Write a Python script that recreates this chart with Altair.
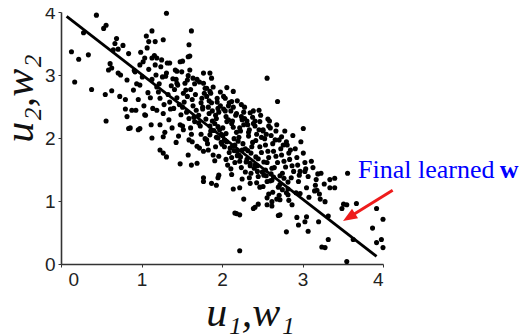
import altair as alt
import pandas as pd

# ---- data (u1, u2) ----
pts_upper = [(0.44,3.95),(0.56,3.79),(0.53,3.74),(0.28,3.67),(0.13,3.37),(0.22,3.25),(0.34,3.32),
 (0.17,2.89),(0.38,2.77),(0.55,2.69),(0.63,2.75),(0.56,2.27),(0.69,3.58),(0.67,3.50),(0.65,3.40),
 (0.77,3.47),(0.71,3.41),(0.84,3.34),(0.61,3.18),(0.63,3.11),(0.59,3.08),(0.71,3.03),(0.74,3.00),
 (0.82,2.92),(0.92,3.05),(1.02,3.21),(1.13,3.27),(1.19,3.27),(1.48,3.21),(1.58,3.29),(1.60,3.08),
 (1.50,3.05),(0.98,2.84),(0.90,2.76),(0.80,2.61),(0.73,2.66),(0.88,2.44),(0.82,2.34),(0.84,2.15),
 (0.98,2.15),(1.04,2.37),(1.19,2.44),(1.23,2.21),(1.13,2.00),(1.27,2.02),(0.80,2.46),(0.86,2.16),
 (0.96,2.13),(1.31,3.98),(1.62,3.70),(1.06,3.62),(1.13,3.70),(1.09,3.53),(1.27,3.56),(1.17,3.53),
 (1.59,3.48),(1.60,3.30),(1.51,3.22),(1.44,3.06),(1.64,2.95),(1.77,3.03),(1.85,3.03),(1.87,2.95),
 (1.77,2.87),(1.81,2.79),(1.85,2.74),(2.06,2.80),(2.14,2.74),(2.04,2.63),(2.12,2.58),(2.24,2.53),
 (2.56,2.95),(2.69,2.58),(2.46,2.44),(2.57,2.30),(2.35,2.40),(2.41,2.27),(2.60,2.16),(2.51,2.13),
 (3.01,2.15),(2.74,2.02),(2.80,1.94),(1.35,3.19),(1.44,2.87),(1.52,2.71)]

pts_lower = [(1.23,1.81),(1.27,1.76),(1.31,1.70),(1.48,1.59),(1.62,1.57),(1.58,1.73),(1.69,1.60),
 (1.77,1.31),(1.87,1.28),(1.96,1.41),(1.77,1.37),(1.93,1.25),(1.95,1.37),(2.14,1.19),(2.22,1.21),
 (2.27,1.03),(2.18,0.80),(2.22,0.78),(2.16,0.81),(2.41,0.90),(2.45,0.95),(2.56,1.05),(2.62,0.92),
 (2.70,0.77),(2.22,0.21),(2.39,0.88),(2.56,0.94),(2.62,0.99),(2.87,0.94),(2.82,1.10),(2.97,1.12),
 (2.72,1.02)]

pts_right = [(3.56,1.44),(3.40,1.36),(3.34,1.34),(3.34,1.21),(3.40,1.21),(3.03,1.47),(3.16,1.25),
 (3.18,1.17),(3.28,0.99),(3.51,0.95),(3.55,0.94),(3.49,0.88),(3.67,0.96),(3.92,0.88),(4.00,0.71),
 (3.87,0.57),(3.98,0.39),(4.00,0.26),(3.92,0.34),(3.63,0.39),(3.32,0.39),(3.24,0.27),(3.28,0.26),
 (3.55,0.04),(2.80,0.51),(2.95,0.62),(3.03,0.67),(2.93,0.74),(3.05,0.75),(3.20,0.67),(2.72,0.78),
 (3.07,0.52),(3.22,1.03),(3.32,0.76)]

pts_core_a = [(0.91,3.07),(0.96,2.61),(0.99,3.36),(0.94,2.86),(0.93,2.44),(0.98,3.16),
 (1.04,3.27),(1.01,2.97),(1.08,2.72),(1.03,2.51),(1.09,3.09),(1.05,2.36),(1.07,3.43),
 (1.13,2.93),(1.17,3.16),(1.11,2.64),(1.19,2.81),(1.14,2.47),(1.16,3.31),(1.18,3.00),(1.12,2.21),
 (1.26,2.97),(1.21,2.73),(1.24,3.13),(1.28,2.53),(1.22,2.86),(1.27,2.39),(1.25,3.24),(1.29,2.09),(1.23,2.63),
 (1.37,2.83),(1.31,3.03),(1.35,2.57),(1.33,2.69),(1.39,2.94),(1.34,2.29),(1.32,3.19),(1.38,2.16),(1.36,2.46),(1.30,2.98),
 (1.41,2.77),(1.47,2.53),(1.43,2.93),(1.49,2.37),(1.44,2.64),(1.42,3.08),(1.48,2.21),(1.45,2.84),(1.40,2.47),(1.46,2.03),(1.43,1.93),
 (1.57,2.66),(1.51,2.49),(1.54,2.87),(1.59,2.31),(1.53,2.57),(1.58,2.99),(1.52,2.13),(1.55,2.76),(1.56,2.41),(1.59,1.97),(1.51,2.19),(1.57,2.92),
 (1.63,2.61),(1.68,2.44),(1.61,2.77),(1.66,2.26),(1.64,2.51),(1.69,2.93),(1.62,2.06),(1.67,2.69),(1.65,2.33),(1.69,1.87),(1.61,2.16),(1.66,2.86),(1.63,1.94),
 (1.74,2.56),(1.71,2.36),(1.78,2.71),(1.73,2.19),(1.76,2.46),(1.72,2.89),(1.79,1.99),(1.75,2.63),(1.71,2.24),(1.77,1.79),(1.74,2.06),(1.79,2.79),(1.72,1.84),(1.76,2.49),
 (1.83,2.49),(1.88,2.27),(1.81,2.66),(1.86,2.11),(1.84,2.39),(1.89,2.81),(1.82,1.91),(1.87,2.56),(1.85,2.19),(1.89,1.73),(1.81,1.97),(1.86,2.71),(1.83,1.81),(1.88,2.43),(1.84,2.59)]

pts_core_b = [(1.96,2.41),(1.91,2.23),(1.94,2.57),(1.99,2.06),(1.93,2.31),(1.98,2.73),(1.92,1.86),(1.95,2.47),(1.97,2.13),(1.91,1.64),(1.99,1.93),(1.94,2.63),(1.96,1.71),(1.92,2.36),(1.98,2.51),(1.93,2.01),
 (2.05,2.34),(2.01,2.16),(2.08,2.51),(2.03,1.97),(2.06,2.26),(2.02,2.66),(2.09,1.77),(2.04,2.43),(2.01,2.04),(2.07,1.57),(2.03,1.86),(2.09,2.56),(2.05,1.66),(2.08,2.29),(2.02,2.46),(2.06,1.94),
 (2.13,2.27),(2.18,2.09),(2.11,2.43),(2.16,1.89),(2.14,2.17),(2.19,2.59),(2.12,1.69),(2.17,2.36),(2.15,1.99),(2.11,1.51),(2.19,1.79),(2.14,2.49),(2.16,1.61),(2.12,2.23),(2.18,2.39),(2.13,1.87),
 (2.27,2.21),(2.21,2.01),(2.24,2.34),(2.29,1.83),(2.23,2.11),(2.28,2.49),(2.22,1.63),(2.25,2.29),(2.26,1.91),(2.29,1.46),(2.21,1.73),(2.27,2.41),(2.24,1.53),(2.22,2.16),(2.28,2.31),(2.25,1.81),
 (2.34,2.13),(2.38,1.93),(2.31,2.27),(2.36,1.76),(2.33,2.03),(2.39,2.43),(2.35,1.56),(2.32,2.21),(2.37,1.86),(2.34,1.37),(2.31,1.66),(2.38,2.33),(2.36,1.44),(2.33,2.09),(2.39,2.23)]

pts_core_c = [(2.43,2.06),(2.47,1.86),(2.41,2.19),(2.45,1.67),(2.42,1.96),(2.48,2.36),(2.44,1.47),(2.46,2.13),(2.49,1.77),(2.43,1.29),(2.41,1.57),(2.47,2.26),(2.45,1.39),(2.49,2.01),
 (2.53,1.99),(2.57,1.79),(2.51,2.11),(2.56,1.61),(2.54,1.89),(2.59,2.27),(2.52,1.41),(2.55,2.06),(2.58,1.69),(2.51,1.23),(2.54,1.49),(2.58,2.19),(2.56,1.31),
 (2.63,1.91),(2.67,1.71),(2.61,2.04),(2.65,1.53),(2.64,1.79),(2.68,2.21),(2.62,1.33),(2.66,1.97),(2.69,1.61),(2.63,1.14),(2.61,1.43),(2.67,2.11),
 (2.73,1.83),(2.77,1.63),(2.71,1.97),(2.75,1.44),(2.74,1.73),(2.78,2.11),(2.72,1.26),(2.76,1.89),(2.79,1.54),(2.71,1.09),(2.77,1.36),
 (2.83,1.76),(2.87,1.56),(2.81,1.89),(2.86,1.37),(2.84,1.66),(2.88,2.04),(2.82,1.19),(2.85,1.81),(2.89,1.47),(2.83,1.01),
 (2.93,1.69),(2.97,1.47),(2.91,1.83),(2.95,1.31),(2.94,1.57),(2.98,1.94),(2.92,1.13),(2.96,1.41),
 (3.03,1.61),(3.07,1.39),(3.01,1.76),(3.05,1.21),(3.04,1.51),(3.08,1.06),
 (3.13,1.53),(3.17,1.34),(3.11,1.63),(3.15,1.16),(3.19,1.43),
 (3.23,1.44),(3.27,1.27),(3.21,1.11)]

pts_core_d = [(1.85,2.05),(1.90,2.12),(1.95,2.00),(2.00,1.90),(2.04,1.96),(2.10,1.84),(2.15,1.80),
 (2.19,1.72),(2.23,1.70),(2.30,1.62),(2.35,1.60),(2.40,1.52),(2.44,1.56),(2.50,1.46),(2.55,1.40),
 (2.60,1.32),(2.64,1.38),(2.70,1.22),(2.75,1.18),(2.80,1.13),(1.80,2.30),(1.95,2.18),(2.05,2.07),
 (2.20,1.95),(2.32,1.80),(2.42,1.70),(2.52,1.62),(2.62,1.52),(2.72,1.40),(2.82,1.30),(2.47,1.22),
 (2.58,1.11),(2.35,1.28),(2.68,1.03),(2.12,1.42),(2.25,1.35)]

line_u1 = [0.07, 3.92]
line_u2 = [3.93, 0.12]

arrow_u1 = [4.12, 3.578]
arrow_u2 = [1.17, 0.741]

ann_label = ["Final learned", "w"]
ann_u1 = [3.69, 5.45]
ann_u2 = [1.37, 1.37]

x_ticks = [0, 1, 2, 3, 4]
y_ticks = [0, 1, 2, 3, 4]

all_pts = pts_upper + pts_lower + pts_right + pts_core_a + pts_core_b + pts_core_c + pts_core_d
pts_df = pd.DataFrame(all_pts, columns=["u1", "u2"])
line_df = pd.DataFrame({"u1": line_u1, "u2": line_u2})
arrow_df = pd.DataFrame({"u1": arrow_u1, "u2": arrow_u2, "o": [0, 1]})
head_df = arrow_df.iloc[[1]]
ann_df = pd.DataFrame({"t": ann_label, "u1": ann_u1, "u2": ann_u2})

xs = alt.Scale(domain=[0, 4], nice=False, zero=False)
ys = alt.Scale(domain=[0, 4], nice=False, zero=False)

x_axis = alt.Axis(values=x_ticks, format="d", title="u₁,w₁", grid=False, domainColor="#333",
                  domainWidth=1.6, tickColor="#333", tickSize=3, labelFont="Liberation Sans",
                  labelFontSize=19, labelColor="#222", labelPadding=3,
                  labelOffset={"expr": "datum.value == 0 ? 7 : 0"},
                  titleFont="Liberation Serif", titleFontStyle="italic", titleFontWeight="normal",
                  titleFontSize=42, titleColor="#111", titleX=189, titleY=61,
                  titleBaseline="alphabetic", titleAlign="center")
y_axis = alt.Axis(values=y_ticks, format="d", title="u₂,w₂", grid=False, domainColor="#333",
                  domainWidth=1.6, tickColor="#333", tickSize=3, labelFont="Liberation Sans",
                  labelFontSize=19, labelColor="#222", labelPadding=3,
                  titleFont="Liberation Serif", titleFontStyle="italic", titleFontWeight="normal",
                  titleFontSize=42, titleColor="#111", titleX=-29, titleY=86,
                  titleBaseline="alphabetic", titleAlign="center", titleAngle=270)

points = alt.Chart(pts_df).mark_circle(size=26, color="black", opacity=1).encode(
    x=alt.X("u1:Q", scale=xs, axis=x_axis),
    y=alt.Y("u2:Q", scale=ys, axis=y_axis),
)
line = alt.Chart(line_df).mark_line(color="black", strokeWidth=2.8).encode(
    x=alt.X("u1:Q", scale=xs), y=alt.Y("u2:Q", scale=ys))
arrow = alt.Chart(arrow_df).mark_line(color="#ee1c1c", strokeWidth=3).encode(
    x=alt.X("u1:Q", scale=xs), y=alt.Y("u2:Q", scale=ys), order="o:O")
head = alt.Chart(head_df).mark_point(shape="M0,-1L0.8,1L-0.8,1Z", size=200, filled=True,
                                     color="#ee1c1c", opacity=1, angle=238).encode(
    x=alt.X("u1:Q", scale=xs), y=alt.Y("u2:Q", scale=ys))
ann1 = alt.Chart(ann_df.iloc[[0]]).mark_text(font="Liberation Serif", fontSize=26, color="#0000ff",
                                            align="left", baseline="alphabetic").encode(
    x=alt.X("u1:Q", scale=xs), y=alt.Y("u2:Q", scale=ys), text="t:N")
ann2 = alt.Chart(ann_df.iloc[[1]]).mark_text(font="Liberation Serif", fontSize=26, color="#0000ff",
                                            fontWeight="bold", align="left", baseline="alphabetic").encode(
    x=alt.X("u1:Q", scale=xs), y=alt.Y("u2:Q", scale=ys), text="t:N")

chart = alt.layer(points, line, arrow, head, ann1, ann2).properties(
    width=322, height=252, autosize="none",
    padding={"left": 53, "top": 4, "right": 136, "bottom": 72},
).configure_view(strokeWidth=0, stroke=None)

chart.save("out.html", embed_options={"renderer": "svg", "actions": False})
